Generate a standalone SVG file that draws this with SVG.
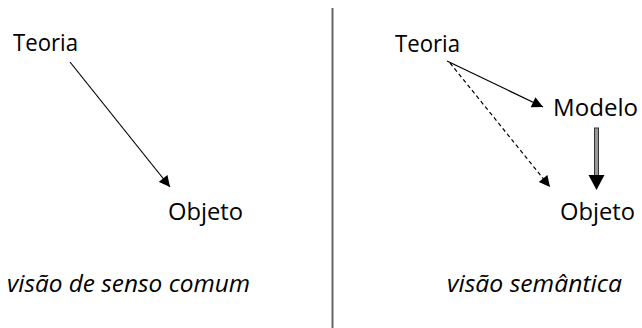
<svg xmlns="http://www.w3.org/2000/svg" width="642" height="328" viewBox="0 0 642 328">
  <style>
    .lbl { font-family: "Open Sans", "Liberation Sans", sans-serif; font-size: 23px; fill: #000; }
    .cap { font-family: "Open Sans", "Liberation Sans", sans-serif; font-size: 23px; font-style: italic; fill: #000; }
    .edge { stroke: #000; stroke-width: 1.2; fill: none; }
    .dash { stroke-dasharray: 4 3; }
  </style>
  <defs>
    <marker id="head" viewBox="0 0 10 10" refX="10" refY="5" markerWidth="12" markerHeight="11" markerUnits="userSpaceOnUse" orient="auto">
      <path d="M0,0 L10,5 L0,10 Z" fill="#000"/>
    </marker>
  </defs>
  <rect width="642" height="328" fill="#fff"/>

  <!-- divider between the two views -->
  <line x1="332.5" y1="8" x2="332.5" y2="328" stroke="#666" stroke-width="2"/>

  <!-- left: common-sense view -->
  <g id="teoria-left"><text class="lbl" x="13" y="51" textLength="65" lengthAdjust="spacingAndGlyphs">Teoria</text></g>
  <g id="objeto-left"><text class="lbl" x="168" y="220" textLength="75" lengthAdjust="spacingAndGlyphs">Objeto</text></g>

  <!-- right: semantic view -->
  <g id="teoria-right"><text class="lbl" x="395" y="52" textLength="65" lengthAdjust="spacingAndGlyphs">Teoria</text></g>
  <g id="modelo"><text class="lbl" x="553" y="116" textLength="85" lengthAdjust="spacingAndGlyphs">Modelo</text></g>
  <g id="objeto-right"><text class="lbl" x="560" y="220" textLength="75" lengthAdjust="spacingAndGlyphs">Objeto</text></g>

  <g id="connectors">
    <line class="edge" x1="70" y1="62" x2="170" y2="187" marker-end="url(#head)"/>
    <line class="edge" x1="447" y1="61" x2="543" y2="107" marker-end="url(#head)"/>
    <line class="edge dash" x1="450" y1="63" x2="550" y2="187" marker-end="url(#head)"/>
    <!-- block arrow Modelo -> Objeto -->
    <rect x="594.5" y="128" width="4" height="48" fill="#999" stroke="#333" stroke-width="1"/>
    <path d="M588.5,175 L604.5,175 L596.5,190 Z" fill="#000"/>
  </g>

  <g id="captions">
    <text class="cap" x="7" y="292" textLength="243" lengthAdjust="spacingAndGlyphs">visão de senso comum</text>
    <text class="cap" x="447" y="292" textLength="175" lengthAdjust="spacingAndGlyphs">visão semântica</text>
  </g>
</svg>
